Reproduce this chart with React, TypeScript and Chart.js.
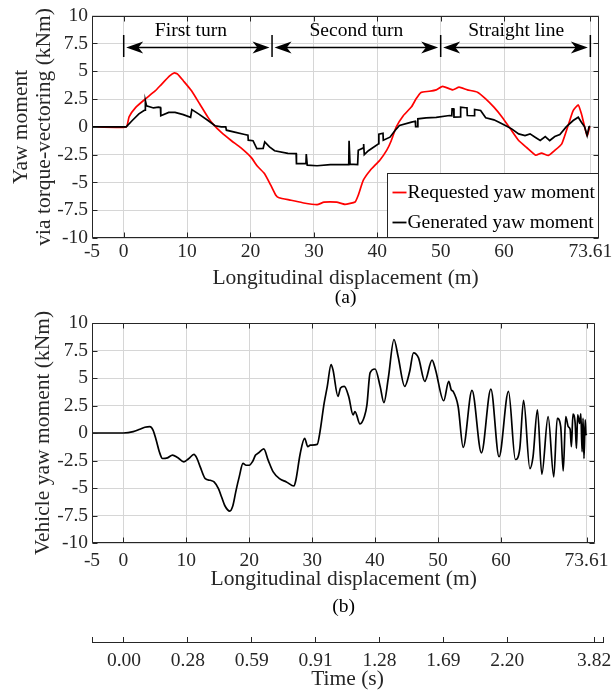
import React, { useEffect, useRef } from 'react';
import { Chart, registerables } from 'chart.js';

Chart.register(...registerables);

// ---------- data ----------
const X_MIN = -5;
const X_MAX = 75;
const xTickValues = [-5, 0, 10, 20, 30, 40, 50, 60, 73.61];
const xTickLabels = ['-5', '0', '10', '20', '30', '40', '50', '60', '73.61'];
const yTickValues = [-10, -7.5, -5, -2.5, 0, 2.5, 5, 7.5, 10];
const yTickLabels = ['-10', '-7.5', '-5', '-2.5', '0', '2.5', '5', '7.5', '10'];

const timeTickPositions = [-5, 0, 10, 20, 30, 40, 50, 60, 73.61, 75];
const timeTickLabels = ['', '0.00', '0.28', '0.59', '0.91', '1.28', '1.69', '2.20', '3.82', ''];

const requestedX = [-5, 0.4, 0.85, 1.9, 3.4, 5.0, 6.0, 7.3, 8.0, 8.5, 9.4, 10.7, 12.0, 13.3, 14.1, 15.4, 17.0, 18.5, 20.1, 21.1, 22.2, 23.2, 24.0, 24.5, 26.4, 28.4, 30.5, 31.6, 33.6, 34.9, 36.5, 37.0, 37.8, 38.9, 40.4, 41.5, 42.2, 43.0, 44.1, 45.4, 46.1, 46.9, 48.2, 49.3, 50.3, 51.9, 52.9, 54.2, 55.8, 57.1, 58.4, 59.7, 61.0, 62.3, 63.6, 65.0, 65.9, 67.0, 68.0, 69.1, 70.1, 70.9, 71.7, 72.2, 73.1, 73.5];
const requestedY = [0, 0, 0.9, 1.75, 2.5, 3.25, 3.85, 4.6, 4.85, 4.75, 4.15, 3.25, 2.05, 0.85, 0.25, -0.5, -1.25, -1.9, -2.75, -3.55, -4.2, -5.25, -6.15, -6.38, -6.6, -6.85, -7.0, -6.78, -6.78, -6.97, -6.76, -6.15, -4.8, -3.9, -3.0, -2.1, -1.25, 0, 1.0, 1.8, 2.5, 3.1, 3.2, 3.33, 3.65, 3.33, 3.57, 3.33, 3.12, 2.52, 1.77, 0.87, -0.18, -1.23, -1.88, -2.55, -2.36, -2.57, -2.12, -1.53, 0.12, 1.47, 1.97, 1.17, -0.8, 0.0];

const generatedX = [-5, 0.4, 1.35, 2.4, 3.2, 3.38, 3.42, 3.6, 4.7, 5.5, 5.8, 5.85, 7.1, 8.1, 9.4, 10.55, 10.75, 11.8, 13.3, 14.4, 15.4, 16.1, 16.2, 17.5, 19.1, 19.6, 19.65, 20.4, 21.0, 22.0, 22.25, 23.0, 23.8, 25.9, 27.2, 27.25, 28.75, 28.8, 28.9, 28.95, 30.5, 32.6, 35.5, 35.55, 35.65, 35.7, 36.9, 37.0, 37.8, 37.85, 37.95, 38.6, 40.2, 40.25, 40.9, 40.95, 42.0, 42.8, 43.5, 45.4, 46.0, 46.05, 46.35, 46.4, 47.7, 49.3, 51.4, 51.75, 51.8, 52.05, 52.1, 53.1, 53.15, 53.9, 54.15, 54.2, 55.3, 55.35, 56.3, 57.1, 58.4, 59.2, 60.2, 61.2, 62.3, 63.3, 64.1, 64.9, 65.7, 66.5, 67.2, 68.0, 68.8, 69.8, 70.9, 71.7, 72.2, 72.7, 73.1, 73.4, 73.6];
const generatedY = [0, 0, 0.57, 1.17, 1.47, 1.5, 2.35, 1.9, 1.7, 1.77, 1.75, 1.0, 1.3, 1.3, 1.1, 0.85, 1.55, 1.17, 0.57, 0.1, 0, 0, -0.3, -0.48, -0.69, -0.75, -1.2, -1.25, -1.95, -1.93, -1.35, -1.8, -2.15, -2.38, -2.4, -3.3, -3.3, -2.45, -2.45, -3.45, -3.5, -3.4, -3.4, -1.25, -1.25, -3.35, -3.4, -2.1, -1.9, -1.55, -2.5, -2.15, -1.52, -0.65, -0.57, -1.2, -0.93, -0.33, 0.12, 0.42, 0.5, 0.02, 0.02, 0.72, 0.8, 0.85, 1.02, 1.0, 1.62, 1.62, 0.87, 0.9, 1.77, 1.72, 1.72, 1.02, 1.0, 1.56, 1.47, 0.81, 0.63, 0.42, 0.12, -0.18, -0.63, -0.78, -0.63, -0.93, -1.23, -0.87, -1.23, -0.87, -0.69, 0.0, 0.57, 0.87, 0.42, 0.0, -0.78, 0.0, 0.06];

const vehicleX = [-5, 0, 1.56, 2.6, 3.4, 4.2, 4.7, 5.2, 5.7, 6.2, 7.0, 7.8, 8.6, 9.6, 10.4, 11.2, 11.7, 12.2, 13.0, 13.8, 14.4, 15.1, 15.6, 16.1, 16.9, 17.4, 17.9, 18.4, 19.0, 19.5, 20.0, 20.5, 21.0, 21.5, 22.3, 23.0, 23.8, 24.8, 25.9, 27.1, 27.4, 28.1, 28.8, 29.3, 29.7, 30.8, 31.2, 31.9, 32.4, 33.0, 33.3, 34.1, 34.5, 35.1, 35.8, 36.5, 36.8, 37.6, 38.3, 38.7, 39.2, 40.0, 40.8, 41.4, 42.1, 43.0, 43.65, 44.7, 45.5, 46.1, 46.9, 47.9, 49.05, 49.6, 50.9, 51.7, 52.1, 52.4, 53.2, 54.0, 55.4, 56.9, 58.4, 59.7, 61.2, 62.3, 63.0, 63.6, 64.6, 65.1, 65.8, 66.5, 67.5, 68.4, 68.95, 69.5, 69.9, 70.3, 70.7, 71.0, 71.2, 71.45, 71.8, 72.0, 72.2, 72.5, 72.7, 72.9, 73.05, 73.2, 73.4, 73.5, 73.6];
const vehicleY = [0, 0, 0.12, 0.34, 0.52, 0.58, 0.27, -0.64, -1.7, -2.32, -2.26, -2.01, -2.23, -2.62, -2.32, -1.95, -2.32, -3.08, -4.15, -4.3, -4.45, -5.06, -5.82, -6.59, -7.1, -6.59, -5.21, -3.99, -2.77, -2.93, -2.93, -2.62, -2.01, -1.8, -1.45, -2.47, -3.54, -4.15, -4.45, -4.82, -4.3, -1.86, -0.49, -1.25, -1.1, -1.04, -0.03, 2.71, 4.24, 6.22, 5.76, 3.32, 4.09, 4.24, 3.32, 1.65, 1.95, 0.82, 1.49, 2.56, 5.46, 5.82, 4.24, 2.77, 5.0, 8.5, 6.98, 4.24, 5.61, 7.29, 6.83, 4.7, 6.62, 5.76, 2.93, 4.7, 3.93, 3.78, 2.41, -1.31, 3.87, -1.8, 3.99, -2.16, 3.78, -2.41, -1.4, 2.96, -3.23, -2.16, 2.1, -3.75, 1.49, -3.99, 1.34, 0.58, -3.45, 1.49, 0.58, 0.34, -1.25, 1.71, 0.88, -1.4, 1.65, 0.88, 1.74, -1.71, 1.34, -2.32, 1.19, 0, -0.2];

const segmentBounds = [0, 23.4, 50, 73.61];
const segmentNames = ['First turn', 'Second turn', 'Straight line'];
const segmentLabelX = [10.6, 36.7, 61.9];

const legendNames = ['Requested yaw moment', 'Generated yaw moment'];
const legendColors = ['#ff0000', '#000000'];

// ---------- styling ----------
const FONT = "'Liberation Serif', 'Times New Roman', Times, serif";
const AXIS_COLOR = '#262626';
const GRID_COLOR = '#d6d6d6';
const TICK_SIZE = 19.5;
const TITLE_SIZE = 21.5;

function toPoints(xs: number[], ys: number[]) {
  return xs.map((x, i) => ({ x, y: ys[i] }));
}

function drawFrame(chart: any) {
  const { ctx, chartArea: a } = chart;
  const xs = chart.scales.x;
  const ys = chart.scales.y;
  const L = Math.round(a.left) + 0.5;
  const R = Math.round(a.right) - 0.5;
  const T = Math.round(a.top) + 0.5;
  const B = Math.round(a.bottom) - 0.5;
  ctx.save();
  ctx.strokeStyle = AXIS_COLOR;
  ctx.lineWidth = 1;
  ctx.beginPath();
  ctx.rect(L, T, R - L, B - T);
  for (const v of xTickValues) {
    const p = Math.round(xs.getPixelForValue(v)) + 0.5;
    ctx.moveTo(p, B);
    ctx.lineTo(p, B - 5);
    ctx.moveTo(p, T);
    ctx.lineTo(p, T + 5);
  }
  for (const v of yTickValues) {
    const p = Math.round(ys.getPixelForValue(v)) + 0.5;
    ctx.moveTo(L, p);
    ctx.lineTo(L + 5, p);
    ctx.moveTo(R, p);
    ctx.lineTo(R - 5, p);
  }
  ctx.stroke();
  ctx.restore();
}

function drawCaption(chart: any, text: string, y: number) {
  const { ctx, chartArea: a } = chart;
  ctx.save();
  ctx.fillStyle = '#000';
  ctx.font = `${TICK_SIZE}px ${FONT}`;
  ctx.textAlign = 'center';
  ctx.textBaseline = 'middle';
  ctx.fillText(text, (a.left + a.right) / 2, y);
  ctx.restore();
}

function arrowHead(ctx: CanvasRenderingContext2D, tipX: number, y: number, dir: number) {
  const len = 17;
  const half = 6;
  ctx.beginPath();
  ctx.moveTo(tipX, y);
  ctx.lineTo(tipX + dir * len, y - half);
  ctx.lineTo(tipX + dir * len * 0.72, y);
  ctx.lineTo(tipX + dir * len, y + half);
  ctx.closePath();
  ctx.fill();
}

function drawAnnotations(chart: any) {
  const { ctx } = chart;
  const xs = chart.scales.x;
  const yArrow = 47.5;
  ctx.save();
  ctx.strokeStyle = '#000';
  ctx.fillStyle = '#000';
  ctx.lineWidth = 1.5;
  const px = segmentBounds.map((v) => xs.getPixelForValue(v));
  for (const p of px) {
    ctx.beginPath();
    ctx.moveTo(p, 35);
    ctx.lineTo(p, 57);
    ctx.stroke();
  }
  for (let i = 0; i < segmentNames.length; i++) {
    const l = px[i] + 2.5;
    const r = px[i + 1] - 2.5;
    ctx.beginPath();
    ctx.moveTo(l + 8, yArrow);
    ctx.lineTo(r - 8, yArrow);
    ctx.stroke();
    arrowHead(ctx, l, yArrow, 1);
    arrowHead(ctx, r, yArrow, -1);
    ctx.font = `${TICK_SIZE}px ${FONT}`;
    ctx.textAlign = 'center';
    ctx.textBaseline = 'middle';
    ctx.fillText(segmentNames[i], xs.getPixelForValue(segmentLabelX[i]), 31);
  }
  ctx.restore();
}

function drawLegend(chart: any) {
  const { ctx, chartArea: a } = chart;
  const right = Math.round(a.right) - 0.5;
  const bottom = Math.round(a.bottom) - 0.5;
  const left = Math.round(a.right) - 211.5;
  const top = Math.round(a.bottom) - 64.5;
  ctx.save();
  ctx.fillStyle = '#fff';
  ctx.fillRect(left, top, right - left, bottom - top);
  ctx.strokeStyle = AXIS_COLOR;
  ctx.lineWidth = 1;
  ctx.strokeRect(left, top, right - left, bottom - top);
  ctx.font = `${TICK_SIZE}px ${FONT}`;
  ctx.textAlign = 'left';
  ctx.textBaseline = 'middle';
  for (let i = 0; i < legendNames.length; i++) {
    const y = top + 19 + i * 30;
    ctx.strokeStyle = legendColors[i];
    ctx.lineWidth = 1.8;
    ctx.beginPath();
    ctx.moveTo(left + 5, y);
    ctx.lineTo(left + 19, y);
    ctx.stroke();
    ctx.fillStyle = '#000';
    ctx.fillText(legendNames[i], left + 20, y);
  }
  ctx.restore();
}

function xScaleOptions(tickPadding: number, titlePadBottom: number, axisHeight: number) {
  return {
    type: 'linear' as const,
    min: X_MIN,
    max: X_MAX,
    afterBuildTicks: (s: any) => {
      s.ticks = xTickValues.map((v) => ({ value: v }));
    },
    afterFit: (s: any) => {
      s.height = axisHeight;
    },
    ticks: {
      autoSkip: false,
      maxRotation: 0,
      padding: tickPadding,
      color: AXIS_COLOR,
      font: { family: FONT, size: TICK_SIZE },
      callback: (v: number) => {
        const i = xTickValues.indexOf(v);
        return i >= 0 ? xTickLabels[i] : '';
      },
    },
    grid: { color: GRID_COLOR, lineWidth: 1, drawTicks: false },
    border: { display: false },
    title: {
      display: true,
      text: 'Longitudinal displacement (m)',
      color: AXIS_COLOR,
      font: { family: FONT, size: TITLE_SIZE, lineHeight: 1.2 },
      padding: { top: 0, bottom: titlePadBottom },
    },
  };
}

function yScaleOptions(title: string | string[], titlePadTop: number, lineHeight: number) {
  return {
    type: 'linear' as const,
    min: -10,
    max: 10,
    afterBuildTicks: (s: any) => {
      s.ticks = yTickValues.map((v) => ({ value: v }));
    },
    afterFit: (s: any) => {
      s.width = 92;
    },
    ticks: {
      padding: 4,
      color: AXIS_COLOR,
      font: { family: FONT, size: TICK_SIZE },
      callback: (v: number) => {
        const i = yTickValues.indexOf(v);
        return i >= 0 ? yTickLabels[i] : '';
      },
    },
    grid: { color: GRID_COLOR, lineWidth: 1, drawTicks: false },
    border: { display: false },
    title: {
      display: true,
      text: title,
      color: AXIS_COLOR,
      font: { family: FONT, size: TITLE_SIZE, lineHeight },
      padding: { top: titlePadTop, bottom: 0 },
    },
  };
}

const TOP_H = 320;
const MID_TOP = 305;
const MID_H = 320;
const BOT_TOP = 625;
const BOT_H = 65;

export default function App() {
  const refA = useRef<HTMLCanvasElement>(null);
  const refB = useRef<HTMLCanvasElement>(null);
  const refC = useRef<HTMLCanvasElement>(null);

  useEffect(() => {
    const chartA = new Chart(refA.current as HTMLCanvasElement, {
      type: 'line',
      data: {
        datasets: [
          {
            label: legendNames[0],
            data: toPoints(requestedX, requestedY),
            borderColor: legendColors[0],
            borderWidth: 1.7,
            pointRadius: 0,
            tension: 0.15,
            order: 1,
          },
          {
            label: legendNames[1],
            data: toPoints(generatedX, generatedY),
            borderColor: legendColors[1],
            borderWidth: 1.7,
            pointRadius: 0,
            tension: 0,
            order: 0,
          },
        ],
      },
      options: {
        responsive: false,
        animation: false,
        layout: { padding: { left: 0, right: 12, top: 15, bottom: 0 } },
        plugins: { legend: { display: false }, tooltip: { enabled: false } },
        scales: {
          x: xScaleOptions(2.5, 29, TOP_H - 238),
          y: yScaleOptions(['Yaw moment', 'via torque-vectoring (kNm)'], 9.2, 1.1),
        },
      },
      plugins: [
        {
          id: 'decorA',
          afterDraw(chart: any) {
            drawFrame(chart);
            drawAnnotations(chart);
            drawLegend(chart);
            drawCaption(chart, '(a)', 298);
          },
        },
      ],
    } as any);

    const chartB = new Chart(refB.current as HTMLCanvasElement, {
      type: 'line',
      data: {
        datasets: [
          {
            label: 'Vehicle yaw moment',
            data: toPoints(vehicleX, vehicleY),
            borderColor: '#000',
            borderWidth: 1.7,
            pointRadius: 0,
            cubicInterpolationMode: 'monotone',
          },
        ],
      },
      options: {
        responsive: false,
        animation: false,
        layout: { padding: { left: 0, right: 12, top: 18, bottom: 0 } },
        plugins: { legend: { display: false }, tooltip: { enabled: false } },
        scales: {
          x: xScaleOptions(6.3, 33, MID_H - 238),
          y: yScaleOptions('Vehicle yaw moment (kNm)', 30, 1.2),
        },
      },
      plugins: [
        {
          id: 'decorB',
          afterDraw(chart: any) {
            drawFrame(chart);
            drawCaption(chart, '(b)', 302);
          },
        },
      ],
    } as any);

    const chartC = new Chart(refC.current as HTMLCanvasElement, {
      type: 'line',
      data: { datasets: [] },
      options: {
        responsive: false,
        animation: false,
        layout: { padding: { left: 92, right: 12, top: 12, bottom: 0 } },
        plugins: { legend: { display: false }, tooltip: { enabled: false } },
        scales: {
          x: {
            type: 'linear',
            min: X_MIN,
            max: X_MAX,
            afterBuildTicks: (s: any) => {
              s.ticks = timeTickPositions.map((v) => ({ value: v }));
            },
            afterFit: (s: any) => {
              s.height = BOT_H - 17;
            },
            ticks: {
              autoSkip: false,
              maxRotation: 0,
              padding: 7.5,
              color: AXIS_COLOR,
              font: { family: FONT, size: TICK_SIZE },
              callback: (v: number) => {
                const i = timeTickPositions.indexOf(v);
                return i >= 0 ? timeTickLabels[i] : '';
              },
            },
            grid: { color: AXIS_COLOR, lineWidth: 1, drawTicks: false, drawOnChartArea: true },
            border: { display: true, color: AXIS_COLOR, width: 1 },
            title: {
              display: true,
              text: 'Time (s)',
              color: AXIS_COLOR,
              font: { family: FONT, size: TITLE_SIZE, lineHeight: 0.8 },
              padding: { top: 0, bottom: 1.6 },
            },
          },
          y: { display: false, min: 0, max: 1 },
        },
      },
    } as any);

    return () => {
      chartA.destroy();
      chartB.destroy();
      chartC.destroy();
    };
  }, []);

  const canvasStyle = (top: number, h: number): React.CSSProperties => ({
    position: 'absolute',
    left: 0,
    top,
    width: 615,
    height: h,
    display: 'block',
  });

  return (
    <div style={{ position: 'absolute', left: 0, top: 0, width: 615, height: 690, background: '#fff', overflow: 'hidden' }}>
      <canvas ref={refA} width={615} height={TOP_H} style={canvasStyle(0, TOP_H)} />
      <canvas ref={refB} width={615} height={MID_H} style={canvasStyle(MID_TOP, MID_H)} />
      <canvas ref={refC} width={615} height={BOT_H} style={canvasStyle(BOT_TOP, BOT_H)} />
    </div>
  );
}
